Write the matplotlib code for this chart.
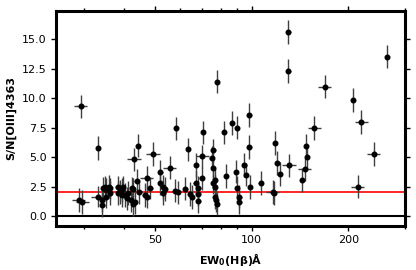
import numpy as np
import matplotlib
matplotlib.use("Agg")
import matplotlib.pyplot as plt
from matplotlib.ticker import FixedLocator, FixedFormatter, NullFormatter

# EW0(Hbeta) in Angstrom
ew = [29.3, 33.3, 28.9, 29.7, 33.1, 34.1, 34.3, 34.5, 34.8, 35.3,
      35.3, 35.9, 36.2, 36.2, 38.4, 38.4, 38.9, 39.4, 39.4, 39.8,
      40.3, 40.8, 41.3, 42.3, 42.0, 42.8, 43.3, 42.6, 43.0, 44.3,
      43.8, 44.7, 46.5, 47.1, 47.1, 48.4, 49.4, 52.0, 51.9, 52.8,
      53.1, 55.7, 53.7, 57.7, 58.9, 58.1, 62.2, 63.5, 64.3, 65.1,
      67.1, 67.0, 68.2, 68.2, 68.2, 69.9, 70.3, 70.6, 75.1, 76.0,
      75.8, 77.0, 76.0, 76.7, 77.0, 77.8, 77.2, 78.1, 82.1, 83.3,
      86.8, 89.9, 89.5, 89.9, 91.6, 91.6, 95.0, 95.9, 98.4, 98.4,
      99.0, 106.7, 116.5, 117.6, 118.4, 120.4, 122.7, 130.3, 130.3, 131.2,
      143.5, 146.2, 148.0, 148.7, 157.0, 168.8, 207.0, 213.9, 219.7, 239.9,
      264.2]

# S/N of [OIII]4363
sn = [9.30, 5.75, 1.36, 1.19, 1.64, 1.36, 0.93, 2.35, 2.49, 2.21,
      1.64, 2.49, 1.93, 2.35, 2.49, 1.93, 2.06, 2.21, 1.78, 2.49,
      1.78, 1.50, 1.93, 2.35, 1.36, 0.99, 1.21, 2.30, 4.81, 5.97,
      2.97, 2.01, 1.78, 1.64, 3.25, 2.38, 5.24, 3.76, 2.78, 2.46,
      1.93, 4.10, 2.29, 2.16, 2.01, 7.43, 2.32, 5.65, 1.87, 1.61,
      4.33, 2.78, 2.40, 1.84, 1.27, 3.20, 5.05, 7.09, 4.90, 5.56,
      4.07, 3.06, 2.83, 2.46, 1.61, 1.06, 1.36, 11.40, 7.09, 3.42,
      7.87, 7.50, 3.76, 2.40, 1.64, 1.19, 4.33, 3.52, 8.57, 5.83,
      2.44, 2.78, 2.06, 1.95, 6.17, 4.52, 3.54, 15.59, 12.31, 4.30,
      3.06, 3.95, 5.94, 5.03, 7.47, 10.98, 9.85, 2.49, 7.95, 5.26,
      13.52]

ew_err = [1.3, 0.5, 1.4, 1.4, 1.5, 0.5, 0.5, 0.5, 0.5, 0.6,
          0.6, 0.6, 0.6, 0.6, 0.9, 0.6, 0.6, 0.6, 0.6, 0.6,
          0.7, 0.7, 0.7, 0.7, 0.7, 0.7, 0.7, 0.7, 2.2, 0.7,
          0.7, 0.7, 0.8, 0.8, 2.3, 0.8, 2.5, 0.8, 0.8, 0.9,
          0.9, 2.6, 0.9, 1.0, 1.0, 1.0, 1.0, 1.0, 1.0, 1.0,
          1.1, 1.1, 1.1, 1.1, 1.1, 1.1, 3.3, 1.1, 1.2, 1.2,
          1.2, 1.2, 1.2, 1.2, 1.2, 1.2, 1.2, 1.2, 1.3, 1.3,
          1.4, 1.4, 1.4, 1.4, 1.5, 1.5, 1.5, 1.5, 1.6, 1.6,
          1.6, 1.7, 5.5, 1.9, 1.9, 1.9, 2.0, 2.1, 2.1, 6.5,
          2.3, 7.0, 2.4, 2.4, 7.5, 8.0, 3.3, 10.0, 10.0, 11.0,
          4.2]

sn_err = [1.0, 1.0, 1.0, 1.0, 0.9, 1.0, 1.0, 1.0, 0.9, 1.0,
          1.0, 1.0, 1.0, 0.9, 0.9, 1.0, 1.0, 1.0, 1.0, 0.9,
          1.0, 1.0, 1.0, 1.0, 1.0, 1.0, 1.0, 0.9, 1.0, 1.0,
          1.0, 1.0, 1.0, 1.0, 1.0, 0.9, 1.0, 1.0, 1.0, 1.0,
          1.0, 1.0, 1.0, 1.0, 1.0, 1.0, 1.0, 1.0, 1.0, 1.0,
          1.0, 1.0, 1.0, 1.0, 1.0, 1.0, 1.0, 1.0, 1.0, 1.0,
          1.0, 1.0, 1.0, 1.0, 1.0, 1.0, 1.0, 1.0, 1.0, 1.0,
          1.0, 1.0, 1.0, 1.0, 1.0, 1.0, 1.0, 1.0, 1.0, 1.0,
          1.0, 1.0, 1.0, 1.0, 1.0, 1.0, 1.0, 1.0, 1.0, 1.0,
          1.0, 1.0, 1.0, 1.0, 1.0, 1.0, 1.0, 1.0, 1.0, 1.0,
          1.0]

threshold = 2.0

fig = plt.figure(figsize=(4.16, 2.70), dpi=100)
ax = fig.add_axes([0.135, 0.164, 0.839, 0.796])

ax.errorbar(ew, sn, xerr=ew_err, yerr=sn_err, fmt='o', color='black',
            ecolor='0.25', elinewidth=1.0, markersize=3.3, capsize=0, zorder=3)
ax.axhline(0, color='black', lw=1.5, zorder=2)
ax.axhline(threshold, color='red', lw=1.2, zorder=2)

ax.set_xscale('log')
ax.set_xlim(24.6, 301)
ax.set_ylim(-0.82, 17.4)
ax.xaxis.set_major_locator(FixedLocator([50, 100, 200]))
ax.xaxis.set_major_formatter(FixedFormatter(['50', '100', '200']))
ax.xaxis.set_minor_formatter(NullFormatter())
ax.set_yticks([0, 2.5, 5, 7.5, 10, 12.5, 15])

ax.tick_params(axis='both', which='both', top=True, right=True,
               labelsize=8, width=1)
for s in ax.spines.values():
    s.set_linewidth(2.2)

ax.set_xlabel('EW$_\\mathbf{0}$(Hβ)Å', fontsize=8, fontweight='bold')
ax.set_ylabel('S/N[OIII]4363', fontsize=8, fontweight='bold')

fig.savefig('out.png', dpi=100)
